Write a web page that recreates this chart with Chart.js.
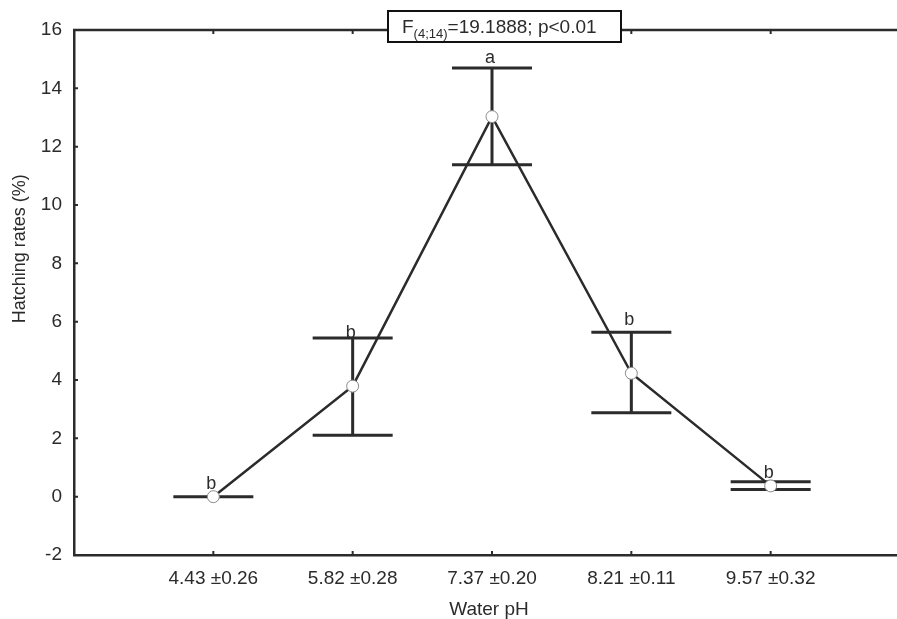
<!DOCTYPE html>
<html>
<head>
<meta charset="utf-8">
<script src="https://cdn.jsdelivr.net/npm/chart.js@4"></script>
<style>
  html, body { margin: 0; padding: 0; background: #fff; overflow: hidden; }
</style>
</head>
<body>
<canvas id="phChart" width="920" height="619" style="width:920px;height:619px"></canvas>
<script>
const categories = ['4.43 ±0.26', '5.82 ±0.28', '7.37 ±0.20', '8.21 ±0.11', '9.57 ±0.32'];
const means = [0, 3.79, 13.03, 4.23, 0.37];
const upper = [0, 5.44, 14.70, 5.64, 0.51];
const lower = [0, 2.11, 11.38, 2.88, 0.25];
const letters = ['b', 'b', 'a', 'b', 'b'];
const letterY = [0.25, 5.45, 14.88, 5.89, 0.63];
const yTicks = [-2, 0, 2, 4, 6, 8, 10, 12, 14, 16];

const ink = '#2b2b2b';
const fontFam = '"Liberation Sans", Arial, sans-serif';

const extras = {
  id: 'extras',
  beforeDatasetsDraw(chart) {
    const {ctx, scales: {x, y}} = chart;
    ctx.save();
    ctx.strokeStyle = ink;
    ctx.lineWidth = 3;
    means.forEach((m, i) => {
      const px = x.getPixelForValue(i + 1);
      const top = y.getPixelForValue(upper[i]);
      const bot = y.getPixelForValue(lower[i]);
      ctx.beginPath();
      ctx.moveTo(px, top); ctx.lineTo(px, bot);
      ctx.moveTo(px - 40, top); ctx.lineTo(px + 40, top);
      ctx.moveTo(px - 40, bot); ctx.lineTo(px + 40, bot);
      ctx.stroke();
    });
    ctx.restore();
  },
  afterDraw(chart) {
    const {ctx, chartArea: a, scales: {x, y}} = chart;
    ctx.save();
    // top frame line
    ctx.strokeStyle = ink;
    ctx.lineWidth = 2.5;
    ctx.beginPath();
    ctx.moveTo(a.left - 1, a.top); ctx.lineTo(a.right, a.top);
    ctx.stroke();
    // inward ticks
    ctx.lineWidth = 2;
    ctx.beginPath();
    yTicks.forEach(v => {
      const py = y.getPixelForValue(v);
      ctx.moveTo(a.left, py); ctx.lineTo(a.left + 4, py);
    });
    categories.forEach((c, i) => {
      const px = x.getPixelForValue(i + 1);
      ctx.moveTo(px, a.bottom); ctx.lineTo(px, a.bottom - 4);
      ctx.moveTo(px, a.top); ctx.lineTo(px, a.top + 4);
    });
    ctx.stroke();

    // group letters
    ctx.fillStyle = ink;
    ctx.font = '18px ' + fontFam;
    ctx.textAlign = 'center';
    ctx.textBaseline = 'alphabetic';
    letters.forEach((l, i) => {
      ctx.fillText(l, x.getPixelForValue(i + 1) - 2, y.getPixelForValue(letterY[i]));
    });

    // axis titles
    ctx.font = '19px ' + fontFam;
    ctx.textBaseline = 'middle';
    ctx.fillText('Water pH', (a.left + a.right) / 2 - 3, a.bottom + 55);
    ctx.font = '18px ' + fontFam;
    ctx.save();
    ctx.translate(20, y.getPixelForValue(8.5));
    ctx.rotate(-Math.PI / 2);
    ctx.fillText('Hatching rates (%)', 0, 0);
    ctx.restore();

    // ANOVA box
    const bx = a.left + 314, by = a.top - 19, bw = 233, bh = 31;
    ctx.fillStyle = '#fff';
    ctx.fillRect(bx, by, bw, bh);
    ctx.strokeStyle = '#111';
    ctx.lineWidth = 2;
    ctx.strokeRect(bx, by, bw, bh);
    ctx.fillStyle = ink;
    ctx.textAlign = 'left';
    ctx.textBaseline = 'alphabetic';
    let tx = bx + 14;
    const base = by + 22;
    ctx.font = '19px ' + fontFam;
    ctx.fillText('F', tx, base);
    tx += ctx.measureText('F').width;
    ctx.font = '13px ' + fontFam;
    ctx.fillText('(4;14)', tx, base + 5);
    tx += ctx.measureText('(4;14)').width;
    ctx.font = '19px ' + fontFam;
    ctx.fillText('=19.1888; p<0.01', tx, base);
    ctx.restore();
  }
};

const ctx = document.getElementById('phChart').getContext('2d');
const phChart = new Chart(ctx, {
  type: 'line',
  data: {
    datasets: [{
      data: means.map((m, i) => ({x: i + 1, y: m})),
      borderColor: ink,
      borderWidth: 2.5,
      pointRadius: 6,
      pointBackgroundColor: '#fff',
      pointBorderColor: '#8a8a8a',
      pointBorderWidth: 1,
      tension: 0
    }]
  },
  options: {
    responsive: false,
    animation: false,
    devicePixelRatio: 1,
    layout: {padding: {top: 30, right: 10, left: 0, bottom: 0}},
    plugins: {legend: {display: false}, tooltip: {enabled: false}},
    scales: {
      x: {
        type: 'linear',
        min: 0,
        max: 6,
        afterBuildTicks: (scale) => { scale.ticks = categories.map((c, i) => ({value: i + 1})); },
        afterFit: (scale) => { scale.height = 64; },
        grid: {display: false, drawTicks: false},
        border: {display: true, color: ink, width: 2.5},
        ticks: {
          padding: 12,
          color: ink,
          font: {size: 19, family: fontFam},
          maxRotation: 0,
          callback: (v) => categories[v - 1]
        }
      },
      y: {
        min: -2,
        max: 16,
        afterBuildTicks: (scale) => { scale.ticks = yTicks.map(v => ({value: v})); },
        afterFit: (scale) => { scale.width = 74; },
        grid: {display: false, drawTicks: false},
        border: {display: true, color: ink, width: 2.5},
        ticks: {
          padding: 12,
          color: ink,
          font: {size: 19, family: fontFam}
        }
      }
    }
  },
  plugins: [extras]
});
</script>
</body>
</html>
